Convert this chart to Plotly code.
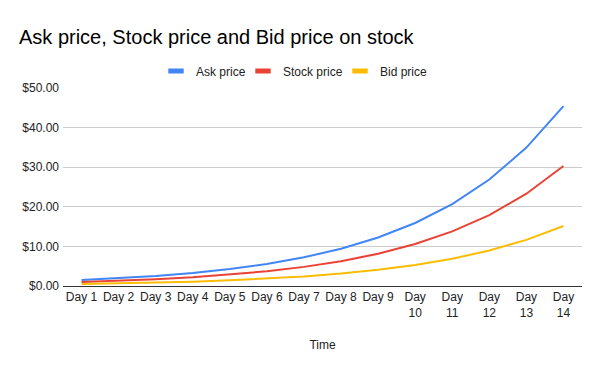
import plotly.graph_objects as go

days = ["Day 1", "Day 2", "Day 3", "Day 4", "Day 5", "Day 6", "Day 7",
        "Day 8", "Day 9", "Day<br>10", "Day<br>11", "Day<br>12", "Day<br>13", "Day<br>14"]
ask_price = [1.50, 1.95, 2.54, 3.30, 4.28, 5.57, 7.24, 9.41, 12.24, 15.91, 20.68, 26.88, 34.95, 45.43]
stock_price = [1.00, 1.30, 1.69, 2.20, 2.86, 3.71, 4.83, 6.27, 8.16, 10.60, 13.79, 17.92, 23.30, 30.29]
bid_price = [0.50, 0.65, 0.85, 1.10, 1.43, 1.86, 2.41, 3.14, 4.08, 5.30, 6.89, 8.96, 11.65, 15.14]
y_ticks = [0, 10, 20, 30, 40, 50]
y_tick_labels = ["$0.00", "$10.00", "$20.00", "$30.00", "$40.00", "$50.00"]

series = [("Ask price", ask_price, "#4285F4", 42),
          ("Stock price", stock_price, "#EA4335", 52),
          ("Bid price", bid_price, "#FBBC04", 50)]

FONT = "Arial, 'Liberation Sans', sans-serif"
ML, MR, MT, MB = 63, 18, 88, 85
PW, PH = 600 - ML - MR, 371 - MT - MB

fig = go.Figure()
for name, vals, color, lw in series:
    fig.add_trace(go.Scatter(x=days, y=vals, mode="lines", name=name,
                             line=dict(color=color, width=2), showlegend=False,
                             legendgroup=name))
for name, vals, color, lw in series:
    fig.add_trace(go.Scatter(x=[None], y=[None], mode="markers", name=name,
                             legendgroup=name, legendwidth=lw,
                             marker=dict(symbol="line-ew", size=11, color=color,
                                         line=dict(color=color, width=5))))

fig.update_layout(
    width=600, height=371,
    paper_bgcolor="white", plot_bgcolor="white",
    margin=dict(l=ML, r=MR, t=MT, b=MB),
    font=dict(family=FONT, size=12, color="#222222"),
    title=dict(text="Ask price, Stock price and Bid price on stock",
               x=19 / 600, xanchor="left", y=1 - 36.5 / 371, yanchor="middle",
               font=dict(family=FONT, size=20, color="#000000")),
    legend=dict(orientation="h",
                x=(156 - ML) / PW, xanchor="left", y=1 + (MT - 71) / PH, yanchor="middle",
                font=dict(family=FONT, size=12, color="#222222"),
                itemwidth=30, bgcolor="rgba(0,0,0,0)"),
    xaxis=dict(type="category", range=[-0.5, 13.5], showgrid=False,
               showline=True, linecolor="#333333", linewidth=1,
               ticks="", tickfont=dict(size=12, color="#222222"),
               title=dict(text="Time", font=dict(size=12, color="#222222"), standoff=21)),
    yaxis=dict(range=[0, 50], tickvals=y_ticks, ticktext=y_tick_labels,
               showgrid=True, gridcolor="#cccccc", gridwidth=1, zeroline=False,
               tickfont=dict(size=12, color="#222222"), ticks="", ticklabelstandoff=3),
)

fig.write_html("out.html", config={"displayModeBar": False},
               post_script="document.body.style.margin='0';document.body.style.overflow='hidden';")
